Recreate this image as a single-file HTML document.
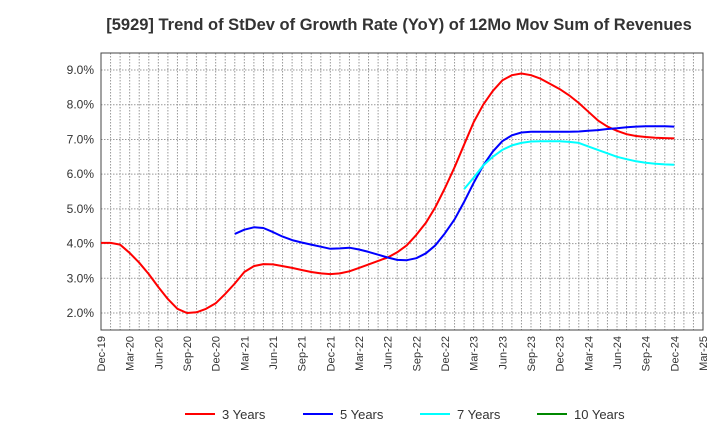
<!DOCTYPE html>
<html><head><meta charset="utf-8"><style>
body{margin:0;background:#fff;font-family:"Liberation Sans",sans-serif}
svg text{font-family:"Liberation Sans",sans-serif}
</style></head><body>
<svg id="c" width="720" height="440" xmlns="http://www.w3.org/2000/svg">
<text x="399" y="30" text-anchor="middle" font-size="16.5" font-weight="bold" fill="#333">[5929]  Trend of StDev of Growth Rate (YoY) of 12Mo Mov Sum of Revenues</text>
<g id="grid"></g><g id="axes"></g><g id="series"></g><g id="legend"></g>
</svg>
<script>
const monthLabels=["Dec-19","Mar-20","Jun-20","Sep-20","Dec-20","Mar-21","Jun-21","Sep-21","Dec-21","Mar-22","Jun-22","Sep-22","Dec-22","Mar-23","Jun-23","Sep-23","Dec-23","Mar-24","Jun-24","Sep-24","Dec-24","Mar-25"];
const yTicks=[2,3,4,5,6,7,8,9];
const s3=[4.02,4.02,3.97,3.73,3.45,3.12,2.75,2.40,2.12,2.00,2.02,2.12,2.28,2.55,2.85,3.18,3.35,3.41,3.40,3.35,3.30,3.24,3.18,3.14,3.12,3.14,3.20,3.30,3.40,3.50,3.60,3.75,3.95,4.25,4.6,5.05,5.6,6.2,6.85,7.5,8.0,8.4,8.7,8.85,8.9,8.85,8.75,8.6,8.45,8.27,8.05,7.8,7.55,7.37,7.25,7.15,7.1,7.07,7.05,7.04,7.03];
const s5Start=14;
const s5=[4.28,4.4,4.47,4.45,4.33,4.2,4.1,4.03,3.97,3.91,3.85,3.86,3.88,3.83,3.76,3.68,3.6,3.53,3.52,3.58,3.72,3.95,4.3,4.7,5.2,5.75,6.25,6.65,6.95,7.12,7.2,7.22,7.22,7.22,7.22,7.22,7.23,7.25,7.27,7.3,7.32,7.35,7.37,7.38,7.38,7.38,7.37];
const s7Start=38;
const s7=[5.57,5.9,6.25,6.5,6.7,6.83,6.9,6.94,6.95,6.95,6.95,6.93,6.9,6.8,6.7,6.6,6.5,6.43,6.37,6.33,6.3,6.28,6.27];
const s10=[];
const L=101,R=703,T=53,B=330,NM=63;
const X=i=>L+(R-L)*i/NM;
const Y=v=>313-(v-2)*34.71;
const NS="http://www.w3.org/2000/svg";
function mk(t,a,p){const e=document.createElementNS(NS,t);for(const k in a)e.setAttribute(k,a[k]);p.appendChild(e);return e;}
const g=document.getElementById('grid'),ax=document.getElementById('axes'),sg=document.getElementById('series'),lg=document.getElementById('legend');
for(let i=1;i<NM;i++){const l=mk('line',{x1:X(i),x2:X(i),y1:T,y2:B,stroke:'#999','stroke-dasharray':'1.5,1.5','stroke-width':1},g);

}
yTicks.forEach(v=>{const l=mk('line',{x1:L,x2:R,y1:Y(v),y2:Y(v),stroke:'#999','stroke-dasharray':'1.5,1.5'},g);


const t=mk('text',{x:L-7,y:Y(v)+4,'text-anchor':'end','font-size':12,fill:'#333'},ax);t.textContent=v.toFixed(1)+'%';

});
const fr=mk('rect',{x:L,y:T,width:R-L,height:B-T,fill:'none',stroke:'#444','stroke-width':1},ax);


monthLabels.forEach((m,k)=>{const x=X(k*3);const t=mk('text',{x:0,y:0,'text-anchor':'end','font-size':11,fill:'#333',transform:`translate(${x+4},336) rotate(-90)`},ax);t.textContent=m;

});
function line(arr,start,color,name){if(!arr.length)return;const d=arr.map((v,i)=>(i?'L':'M')+X(start+i).toFixed(1)+','+Y(v).toFixed(1)).join('');
const p=mk('path',{d,fill:'none',stroke:color,'stroke-width':2,'stroke-linejoin':'round'},sg);

}
line(s3,0,'#f00','series-3-years');
line(s5,s5Start,'#00f','series-5-years');
line(s7,s7Start,'#0ff','series-7-years');
line(s10,0,'#080','series-10-years');
[['3 Years','#f00',185],['5 Years','#00f',303],['7 Years','#0ff',420],['10 Years','#080',537]].forEach(([n,c,x])=>{
const gg=mk('g',{},lg);


mk('line',{x1:x,x2:x+30,y1:414,y2:414,stroke:c,'stroke-width':2},gg);
const t=mk('text',{x:x+37,y:419,'font-size':13,fill:'#333'},gg);t.textContent=n;});
</script>
</body></html>
